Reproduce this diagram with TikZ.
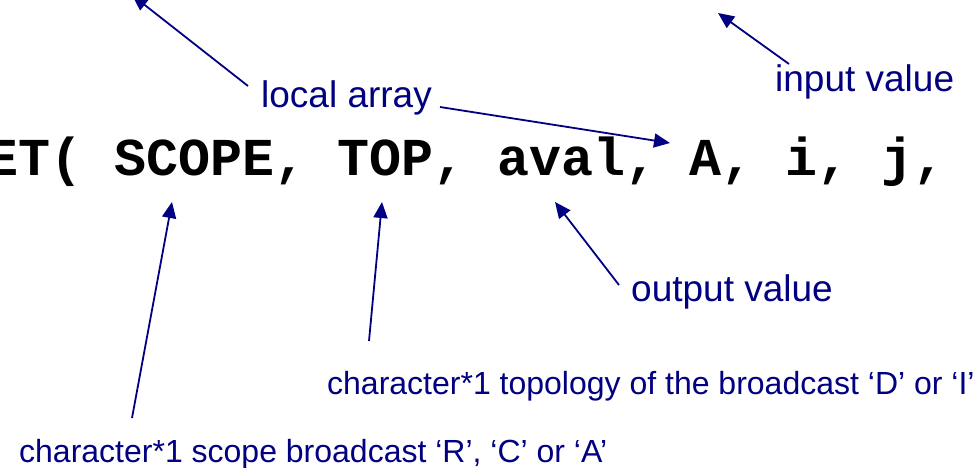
\documentclass[tikz,border=0pt]{standalone}
\usepackage{fontspec}
\setmainfont{Liberation Sans}
\newfontfamily\codefont{Liberation Mono}
\usetikzlibrary{arrows.meta}
\definecolor{navy}{RGB}{0,0,128}
\tikzset{
    note/.style={text=navy, inner sep=0pt, anchor=base west, font=\fontsize{37}{40}\selectfont},
    smallnote/.style={note, font=\fontsize{32}{36}\selectfont},
    pointer/.style={draw=navy, fill=none, line width=1.8pt, ->},
}
\begin{document}
\begin{tikzpicture}[x=1pt, y=-1pt, >={Triangle[length=16pt,width=14pt]}]
            \useasboundingbox (0, 0) rectangle (978, 467);
            \clip (0, 0) rectangle (978, 467);

            \node [inner sep=0pt, anchor=base west] (call) at (-14, 175)
                {\codefont\bfseries\fontsize{53.3}{60}\selectfont ET( SCOPE, TOP, aval, A, i, j,};

            \node [note] (local) at (261, 107) {local array};
            \node [note] (input) at (775, 91) {input value};
            \node [note] (output) at (631, 301) {output value};
            \node [smallnote] (topo) at (327, 394) {character*1 topology of the broadcast ‘D’ or ‘I’};
            \node [smallnote] (scope) at (19, 462) {character*1 scope broadcast ‘R’, ‘C’ or ‘A’};

            % arrow ends
            \coordinate (local1) at (248, 86);
            \coordinate (local2) at (440, 107);
            \coordinate (input1) at (789, 64);
            \coordinate (output1) at (619, 285);
            \coordinate (topo1) at (369, 341);
            \coordinate (scope1) at (132, 418);

            \coordinate (tgtArr) at (132, -5);
            \coordinate (tgtA) at (670, 143);
            \coordinate (tgtIn) at (718, 13);
            \coordinate (tgtAval) at (555, 202);
            \coordinate (tgtTop) at (382, 202);
            \coordinate (tgtScope) at (172, 202);

            \draw [pointer] (local1) -- (tgtArr);
            \draw [pointer] (local2) -- (tgtA);
            \draw [pointer] (input1) -- (tgtIn);
            \draw [pointer] (output1) -- (tgtAval);
            \draw [pointer] (topo1) -- (tgtTop);
            \draw [pointer] (scope1) -- (tgtScope);
        \end{tikzpicture}
\end{document}
